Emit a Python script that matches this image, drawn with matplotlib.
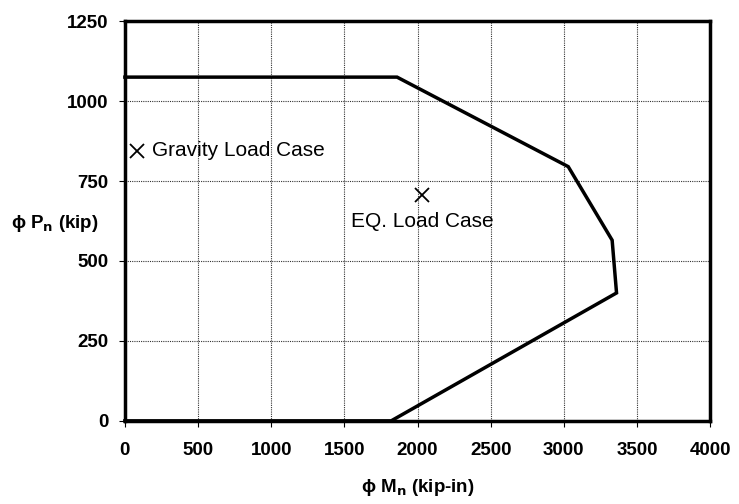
import matplotlib
matplotlib.use('Agg')
import matplotlib.pyplot as plt

plt.rcParams['font.family'] = ['Liberation Sans', 'DejaVu Sans']

# interaction diagram points (kip-in, kip)
mn = [0, 1860, 3030, 3330, 3360, 1820, 0]
pn = [1075, 1075, 795, 565, 400, 0, 0]

gravity_m, gravity_p = [80], [845]
eq_m, eq_p = [2030], [706]

xticks = [0, 500, 1000, 1500, 2000, 2500, 3000, 3500, 4000]
yticks = [0, 250, 500, 750, 1000, 1250]

fig = plt.figure(figsize=(7.39, 5.04), dpi=100)
ax = fig.add_axes([0.169, 0.165, 0.792, 0.793])

ax.plot(mn, pn, color='black', lw=2.5, solid_joinstyle='miter', clip_on=False, zorder=3)
ax.plot(gravity_m, gravity_p, 'x', color='black', ms=10, mew=1.3)
ax.plot(eq_m, eq_p, 'x', color='black', ms=10, mew=1.3)

ax.text(185, 845, 'Gravity Load Case', fontsize=15, va='center', ha='left')
ax.text(2030, 622, 'EQ. Load Case', fontsize=15, va='center', ha='center')

ax.set_xlim(0, 4000)
ax.set_ylim(0, 1250)
ax.set_xticks(xticks)
ax.set_yticks(yticks)
ax.grid(True, color='#333333', lw=0.8, ls=(0, (1, 1)))
for s in ax.spines.values():
    s.set_linewidth(2.5)
ax.tick_params(direction='out', length=4, width=0.8, labelsize=13.5, pad=8)
ax.tick_params(axis='x', pad=11)
for lab in ax.get_xticklabels() + ax.get_yticklabels():
    lab.set_fontweight('bold')

ax.set_xlabel('\u03d5 M$_\\mathbf{n}$ (kip-in)', fontsize=13.5, fontweight='bold', va='center')
ax.set_ylabel('\u03d5 P$_\\mathbf{n}$ (kip)', fontsize=13.5, fontweight='bold', rotation=0,
              va='center', ha='center')
ax.xaxis.set_label_coords(0.5, -0.168)
ax.yaxis.set_label_coords(-0.12, 0.495)

fig.savefig('out.png', dpi=100)
